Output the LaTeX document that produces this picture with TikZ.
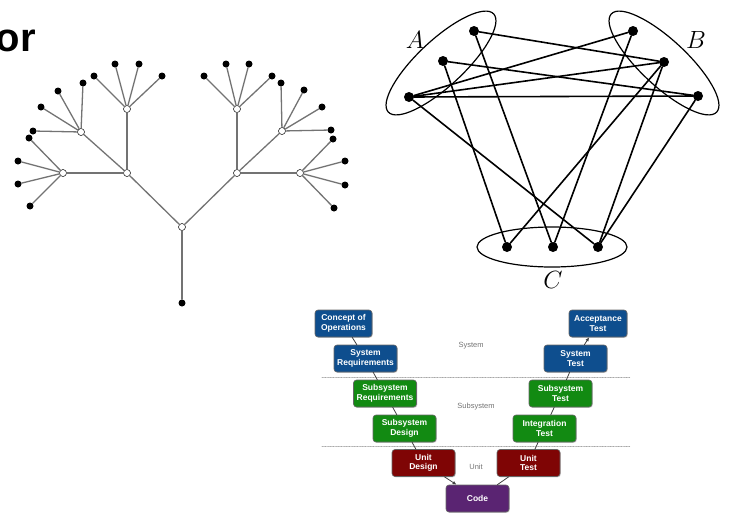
\documentclass[tikz,border=0pt]{standalone}
\usepackage{fontspec}
\setsansfont{Liberation Sans}
\usetikzlibrary{arrows.meta,shapes.geometric,shadows}

\definecolor{vblue}{HTML}{0E4E8E}
\definecolor{vgreen}{HTML}{128A12}
\definecolor{vred}{HTML}{7F0505}
\definecolor{vpurple}{HTML}{5A2472}

\tikzset{
  hub/.style={circle,draw=black,fill=white,line width=0.5pt,inner sep=0pt,minimum size=7pt},
  leaf/.style={circle,fill=black,inner sep=0pt,minimum size=7pt},
  twig/.style={draw=black!55,line width=1.3pt},
  vert/.style={circle,fill=black,inner sep=0pt,minimum size=10pt},
  gedge/.style={line width=1.6pt},
  grp/.style={draw,ellipse,line width=1.2pt,inner sep=0pt},
  vbox/.style={rounded corners=3pt,draw=black!60,line width=0.6pt,text=white,
    font=\sffamily\bfseries\fontsize{8.5}{9.5}\selectfont,align=center,
    minimum width=63pt,minimum height=27pt,inner sep=1pt,
    drop shadow={shadow xshift=0.8pt,shadow yshift=-0.8pt,opacity=0.35}},
  tier/.style={text=black!55,font=\sffamily\fontsize{7.5}{9}\selectfont},
  vlink/.style={draw=black!75,line width=0.8pt},
}

\begin{document}
\begin{tikzpicture}[x=1pt,y=-1pt,line cap=round]
  \useasboundingbox (0,0) rectangle (731,520);

  % title fragment
  \node[font=\sffamily\bfseries\fontsize{40}{40}\selectfont,anchor=base east,inner sep=0pt] (title) at (36,51) {or};

  % Tree
  \node[leaf] (t0) at (182,303) {};
  \node[hub] (t1) at (182,227) {};
  \node[hub] (tL) at (127,173) {};
  \node[hub] (tR) at (237,173) {};
  \node[hub] (tLL) at (63,173) {};
  \node[hub] (tLM) at (81,132) {};
  \node[hub] (tLU) at (127,109) {};
  \node[hub] (tRR) at (300,173) {};
  \node[hub] (tRM) at (282,131) {};
  \node[hub] (tRU) at (237,109) {};
  \foreach \u/\v in {t0/t1,t1/tL,t1/tR,tL/tLL,tL/tLM,tL/tLU,tR/tRR,tR/tRM,tR/tRU}
    \draw[twig] (\u) -- (\v);
  \foreach \p/\x/\y [count=\i] in {tLL/18/161,tLL/18/184,tLL/30/206,tLL/29/138,
      tLM/33/131,tLM/41/107,tLM/58/91,tLM/83/83,
      tLU/94/76,tLU/115/64,tLU/139/64,tLU/162/76,
      tRU/204/76,tRU/226/64,tRU/249/64,tRU/272/76,
      tRM/281/83,tRM/304/90,tRM/322/107,tRM/331/130,
      tRR/333/139,tRR/345/161,tRR/345/185,tRR/334/208}{
    \node[leaf] (lf\i) at (\x,\y) {};
    \draw[twig] (\p) -- (lf\i);
  }

  % Tripartite graph
  \node[grp,rotate=43,minimum width=144pt,minimum height=46pt] (gA) at (441,63) {};
  \node[grp,rotate=-43,minimum width=144pt,minimum height=46pt] (gB) at (664,63) {};
  \node[grp,minimum width=150pt,minimum height=40pt] (gC) at (552,247) {};
  \node[font=\fontsize{24}{28}\selectfont] (labA) at (415,40) {$A$};
  \node[font=\fontsize{24}{28}\selectfont] (labB) at (696,40) {$B$};
  \node[font=\fontsize{24}{28}\selectfont] (labC) at (553,280) {$C$};
  \node[vert] (a1) at (474,31) {};
  \node[vert] (a2) at (443,61) {};
  \node[vert] (a3) at (409,97) {};
  \node[vert] (b1) at (633,31) {};
  \node[vert] (b2) at (664,62) {};
  \node[vert] (b3) at (698,96) {};
  \node[vert] (c1) at (507,247) {};
  \node[vert] (c2) at (553,247) {};
  \node[vert] (c3) at (598,247) {};
  \foreach \u/\v in {a1/b2,a1/c2,a2/b3,a2/c1,a3/b1,a3/b2,a3/b3,a3/c3,b1/c2,b2/c1,b2/c3,b3/c3}
    \draw[gedge] (\u) -- (\v);

  % V-model
  \draw[black!35,densely dotted,line width=0.6pt] (322,377) -- (630,377);
  \draw[black!35,densely dotted,line width=0.6pt] (322,446) -- (630,446);
  \node[tier] (tsys) at (471,346) {System};
  \node[tier] (tsub) at (476,407) {Subsystem};
  \node[tier] (tunit) at (476,467) {Unit};
  \node[vbox,fill=vblue,minimum width=57pt] (conops) at (343.5,323.5) {Concept of\\Operations};
  \node[vbox,fill=vblue] (sysreq) at (365.5,358.5) {System\\Requirements};
  \node[vbox,fill=vgreen] (subreq) at (385,393.5) {Subsystem\\Requirements};
  \node[vbox,fill=vgreen] (subdes) at (404.5,428.5) {Subsystem\\Design};
  \node[vbox,fill=vred] (unitdes) at (423.5,463) {Unit\\Design};
  \node[vbox,fill=vpurple] (code) at (477.5,498.5) {Code};
  \node[vbox,fill=vred] (unittest) at (528.5,463) {Unit\\Test};
  \node[vbox,fill=vgreen] (inttest) at (544.5,428.5) {Integration\\Test};
  \node[vbox,fill=vgreen] (subtest) at (560.5,393.5) {Subsystem\\Test};
  \node[vbox,fill=vblue] (systest) at (575.5,358.5) {System\\Test};
  \node[vbox,fill=vblue,minimum width=58pt] (acctest) at (598,323.5) {Acceptance\\Test};
  \foreach \u/\v in {conops/sysreq,sysreq/subreq,subreq/subdes,subdes/unitdes,
      code/unittest,unittest/inttest,inttest/subtest,subtest/systest}
    \draw[vlink] (\u) -- (\v);
  \draw[vlink,-{Latex[length=4pt,width=3.5pt]}] (unitdes) -- (code);
  \draw[vlink,-{Latex[length=4pt,width=3.5pt]}] (systest) -- (acctest);
\end{tikzpicture}
\end{document}
